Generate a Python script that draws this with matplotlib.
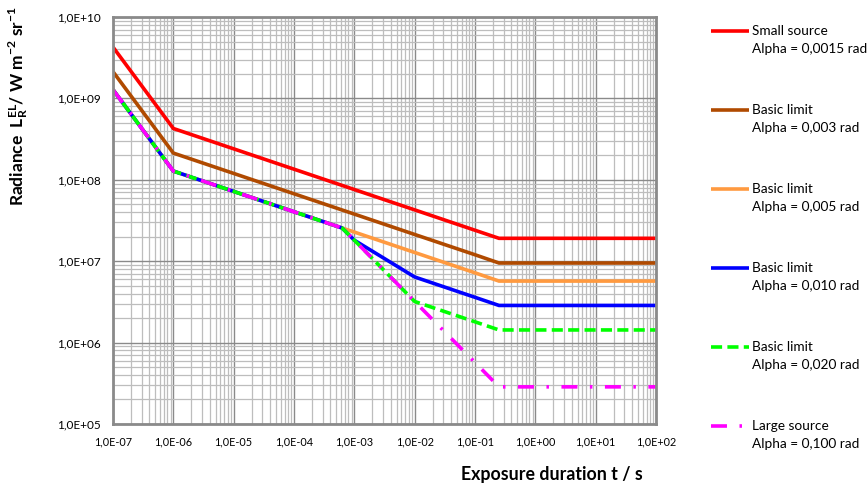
import matplotlib
matplotlib.use("Agg")
import matplotlib.pyplot as plt
from matplotlib.lines import Line2D
from matplotlib.ticker import LogLocator, NullFormatter, FixedLocator

plt.rcParams['font.family'] = ['Lato', 'DejaVu Sans']
plt.rcParams['mathtext.fontset'] = 'custom'
plt.rcParams['mathtext.rm'] = 'Lato'
plt.rcParams['mathtext.bf'] = 'Lato:bold'
plt.rcParams['lines.scale_dashes'] = False

# Exposure durations (s) at which the limits are evaluated
t = [1e-7, 1e-6, 6.25e-4, 1e-3, 1e-2, 1e-1, 0.25, 1e2]

# Radiance limits (W m^-2 sr^-1)
small_0015 = [4.27e9, 4.27e8, 8.54e7, 7.59e7, 4.27e7, 2.40e7, 1.91e7, 1.91e7]
basic_003 = [2.13e9, 2.13e8, 4.26e7, 3.79e7, 2.13e7, 1.20e7, 9.5e6, 9.5e6]
basic_005 = [1.28e9, 1.28e8, 2.56e7, 2.28e7, 1.28e7, 7.2e6, 5.7e6, 5.7e6]
basic_010 = [1.28e9, 1.28e8, 2.56e7, 1.81e7, 6.4e6, 3.6e6, 2.86e6, 2.86e6]
basic_020 = [1.28e9, 1.28e8, 2.56e7, 1.81e7, 3.2e6, 1.8e6, 1.43e6, 1.43e6]
large_100 = [1.28e9, 1.28e8, 2.56e7, 1.81e7, 3.2e6, 5.7e5, 2.86e5, 2.86e5]

labels = [
    "Small source\nAlpha = 0,0015 rad",
    "Basic limit\nAlpha = 0,003 rad",
    "Basic limit\nAlpha = 0,005 rad",
    "Basic limit\nAlpha = 0,010 rad",
    "Basic limit\nAlpha = 0,020 rad",
    "Large source\nAlpha = 0,100 rad",
]
x_ticks = [1e-7, 1e-6, 1e-5, 1e-4, 1e-3, 1e-2, 1e-1, 1e0, 1e1, 1e2]
x_ticklabels = ["1,0E-07", "1,0E-06", "1,0E-05", "1,0E-04", "1,0E-03",
                "1,0E-02", "1,0E-01", "1,0E+00", "1,0E+01", "1,0E+02"]
y_ticks = [1e5, 1e6, 1e7, 1e8, 1e9, 1e10]
y_ticklabels = ["1,0E+05", "1,0E+06", "1,0E+07", "1,0E+08", "1,0E+09", "1,0E+10"]

series = [small_0015, basic_003, basic_005, basic_010, basic_020, large_100]
colors = ["#ff0000", "#b04a00", "#ff9a40", "#0000ff", "#00ff00", "#ff00ff"]
styles = [
    dict(linestyle='-'),
    dict(linestyle='-'),
    dict(linestyle='-'),
    dict(linestyle='-'),
    dict(linestyle=(0, (8.0, 3.8))),
    dict(linestyle=(0, (11.5, 9.0, 1.8, 9.0))),
]

fig = plt.figure(figsize=(8.67, 4.90), dpi=100)
ax = fig.add_axes([113 / 867, 1 - 424 / 490, (656 - 113) / 867, (424 - 17) / 490])

for vals, c, st in zip(series, colors, styles):
    ax.plot(t, vals, color=c, lw=2.6, solid_capstyle='butt', dash_capstyle='butt',
            solid_joinstyle='miter', **st)

ax.set_xscale('log')
ax.set_yscale('log')
ax.set_xlim(1e-7, 1e2)
ax.set_ylim(1e5, 1e10)

ax.xaxis.set_major_locator(FixedLocator(x_ticks))
ax.set_xticklabels(x_ticklabels)
ax.yaxis.set_major_locator(FixedLocator(y_ticks))
ax.set_yticklabels(y_ticklabels)
ax.xaxis.set_minor_locator(LogLocator(base=10, subs=range(2, 10), numticks=100))
ax.yaxis.set_minor_locator(LogLocator(base=10, subs=range(2, 10), numticks=100))
ax.xaxis.set_minor_formatter(NullFormatter())
ax.yaxis.set_minor_formatter(NullFormatter())

ax.grid(True, which='major', color='#8a8a8a', lw=1.0)
ax.grid(True, which='minor', color='#bdbdbd', lw=0.9)
ax.set_axisbelow(True)
ax.tick_params(which='both', length=0)
ax.tick_params(axis='x', labelsize=7.8, pad=9)
ax.tick_params(axis='y', labelsize=8.5, pad=8.5)
for s in ax.spines.values():
    s.set_color('#8a8a8a')
    s.set_linewidth(2)

fig.text(18 / 867, 1 - 106 / 490,
         r"Radiance  $\mathbf{L_R^{EL}}$/ W m$^{\mathbf{-2}}$ sr$^{\mathbf{-1}}$",
         rotation=90, ha='center', va='center', fontsize=12.5, fontweight='bold')
fig.text(552 / 867, 1 - 474 / 490, "Exposure duration t / s",
         ha='center', va='center', fontsize=12.8, fontweight='bold')

# Legend drawn as stacked entries on the right
for i, (lab, c, st) in enumerate(zip(labels, colors, styles)):
    y = 1 - (31 + 79 * i) / 490
    fig.add_artist(Line2D([711 / 867, 749 / 867], [y, y], color=c, lw=2.6,
                          solid_capstyle='butt', dash_capstyle='butt',
                          transform=fig.transFigure, **st))
    l1, l2 = lab.split("\n")
    fig.text(752 / 867, y, l1, ha='left', va='center', fontsize=9.8)
    fig.text(752 / 867, y - 18 / 490, l2, ha='left', va='center', fontsize=9.8)

fig.savefig("out.png", dpi=100)
